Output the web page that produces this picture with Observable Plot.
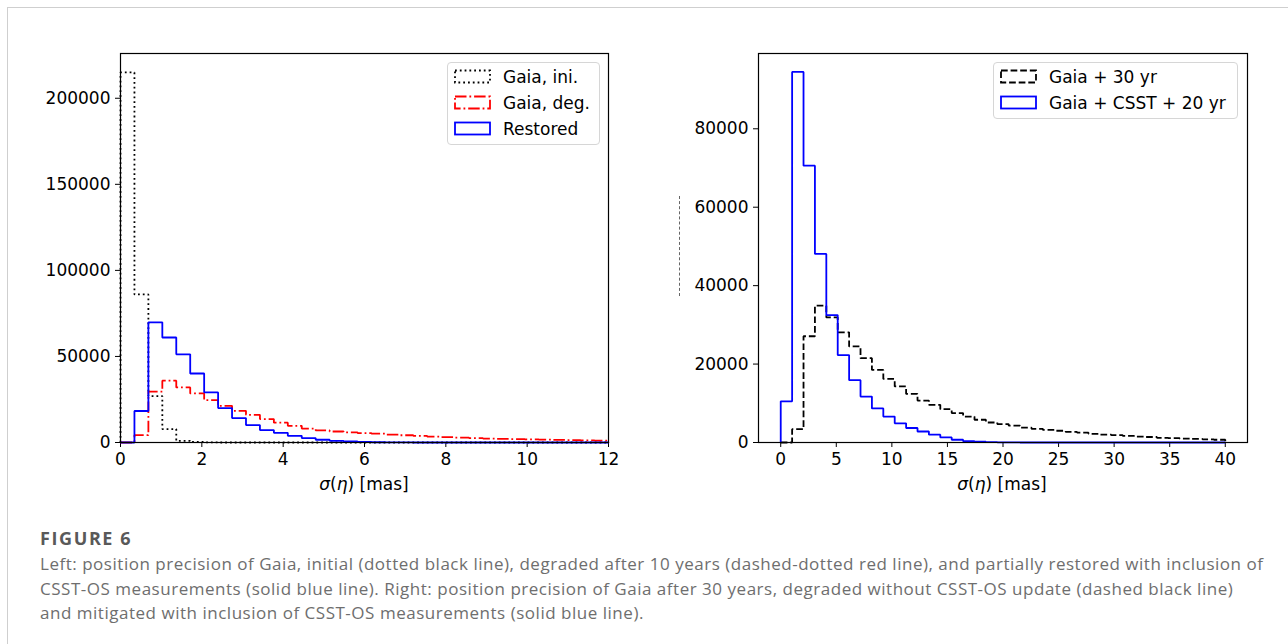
<!DOCTYPE html>
<html>
<head>
<meta charset="utf-8">
<script src="https://cdn.jsdelivr.net/npm/d3@7"></script>
<script src="https://cdn.jsdelivr.net/npm/@observablehq/plot@0.6"></script>
<style>
  html, body { margin: 0; padding: 0; background: #fff; }
  body { width: 1288px; height: 644px; position: relative; overflow: hidden; font-family: "DejaVu Sans", sans-serif; }
  .card { position: absolute; left: 7px; top: 7px; width: 1300px; height: 700px; border-top: 1.5px solid #cfcfcf; border-left: 1.5px solid #cfcfcf; }
  .panel { position: absolute; top: 40px; }
  .legend { position: absolute; background: rgba(255,255,255,0.8); border: 1px solid #d6d6d6; border-radius: 4px; box-sizing: border-box; font-family: "DejaVu Sans", sans-serif; font-size: 17px; color: #000; }
  .legend .row { position: absolute; left: 6px; height: 26px; display: flex; align-items: center; white-space: nowrap; }
  .legend svg { margin-right: 11px; }
  .xlabel { position: absolute; font-family: "DejaVu Sans", sans-serif; font-size: 17px; color: #000; white-space: nowrap; transform: translateX(-50%); }
  .xlabel i { font-family: "DejaVu Sans", sans-serif; font-style: italic; }
  .caption { position: absolute; left: 40px; top: 524px; font-family: "Open Sans", sans-serif; color: #6e6e6e; white-space: nowrap; }
  .caption .fig { font-weight: 700; font-size: 18px; color: #595959; letter-spacing: 1.6px; margin-bottom: 0px; line-height: 28px; }
  .caption .txt { font-size: 17px; letter-spacing: 0.52px; line-height: 24.5px; }
  .artifact { position: absolute; left: 679px; top: 196px; height: 100px; border-left: 1px dashed #666; }
</style>
</head>
<body>
<div class="card"></div>
<div class="artifact"></div>
<div id="left" class="panel" style="left:20px"></div>
<div id="right" class="panel" style="left:660px"></div>
<div class="xlabel" style="left:364px; top:474px"><i>σ</i>(<i>η</i>) [mas]</div>
<div class="xlabel" style="left:1002px; top:474px"><i>σ</i>(<i>η</i>) [mas]</div>
<div id="legL" class="legend" style="left:447px; top:62px; width:153px; height:83px"></div>
<div id="legR" class="legend" style="left:993px; top:62px; width:245px; height:57px"></div>
<div class="caption">
  <div class="fig">FIGURE 6</div>
  <div class="txt">Left: position precision of Gaia, initial (dotted black line), degraded after 10 years (dashed-dotted red line), and partially restored with inclusion of<br>CSST-OS measurements (solid blue line). Right: position precision of Gaia after 30 years, degraded without CSST-OS update (dashed black line)<br>and mitigated with inclusion of CSST-OS measurements (solid blue line).</div>
</div>
<script>
// ---------- data (histogram counts per bin) ----------
const leftRange = [0, 12];            // 35 equal bins
const leftXTicks = [0, 2, 4, 6, 8, 10, 12];
const leftYTicks = [0, 50000, 100000, 150000, 200000];
const leftNames = ["Gaia, ini.", "Gaia, deg.", "Restored"];

const gaiaIni = [215000, 86000, 27000, 7800, 1000, 300, 100, 0, 0, 0,
  0, 0, 0, 0, 0, 0, 0, 0, 0, 0,
  0, 0, 0, 0, 0, 0, 0, 0, 0, 0,
  0, 0, 0, 0, 0];
const gaiaDeg = [0, 4300, 29500, 35900, 32000, 28500, 24600, 21300, 18400, 16100,
  13600, 11500, 9700, 8100, 7000, 6400, 5900, 5500, 5100, 4600,
  4200, 3800, 3400, 3100, 2800, 2500, 2300, 2100, 2000, 1800,
  1700, 1500, 1400, 1250, 1100];
const restored = [0, 18300, 69800, 61000, 51200, 40100, 29100, 20000, 14200, 10100,
  7200, 5600, 3900, 2600, 1600, 1000, 600, 300, 150, 80,
  40, 0, 0, 0, 0, 0, 0, 0, 0, 0,
  0, 0, 0, 0, 0];

const rightRange = [0, 40];           // 39 equal bins
const rightXTicks = [0, 5, 10, 15, 20, 25, 30, 35, 40];
const rightYTicks = [0, 20000, 40000, 60000, 80000];
const rightNames = ["Gaia + 30 yr", "Gaia + CSST + 20 yr"];

const gaia30 = [0, 3400, 27100, 34900, 31900, 28100, 24500, 21500, 18500, 16200,
  14300, 12400, 10700, 9600, 8500, 7500, 6600, 5800, 5100, 4700,
  4300, 3800, 3500, 3200, 3000, 2700, 2500, 2200, 2000, 1900,
  1700, 1500, 1400, 1200, 1100, 1000, 900, 800, 700];
const csst20 = [10500, 94500, 70600, 48100, 32500, 22300, 15900, 11700, 8700, 6600,
  4900, 3700, 2800, 2000, 1300, 700, 350, 200, 100, 50,
  20, 0, 0, 0, 0, 0, 0, 0, 0, 0,
  0, 0, 0, 0, 0, 0, 0, 0, 0];

// ---------- styles ----------
const LW = 1.8;
const DOT = "1.8,3";
const DASH = "6.7,2.9";
const DASHDOT = "11.5,2.9,1.8,2.9";

// outline of a step histogram (matplotlib histtype="step")
function stepPoints(counts, range) {
  const n = counts.length, w = (range[1] - range[0]) / n;
  const pts = [{x: range[0], y: 0}];
  counts.forEach((c, i) => pts.push({x: range[0] + i * w, y: c}));
  pts.push({x: range[1], y: counts[n - 1]});
  pts.push({x: range[1], y: 0});
  return pts;
}

const common = {
  height: 460, marginTop: 13, marginBottom: 58,
  style: {fontFamily: "DejaVu Sans, sans-serif", fontSize: "17px", color: "#000", background: "transparent", overflow: "visible"}
};
const fmt = d => String(d);

function stepLine(counts, range, stroke, dash) {
  return Plot.line(stepPoints(counts, range), {x: "x", y: "y", curve: "step-after", stroke, strokeWidth: LW, strokeDasharray: dash, strokeLinejoin: "miter", strokeLinecap: "butt"});
}

const left = Plot.plot({
  ...common,
  width: 600, marginLeft: 100, marginRight: 12,
  x: {domain: [0, 12], ticks: leftXTicks, tickFormat: fmt, label: null, tickSize: 5, tickPadding: 5},
  y: {domain: [0, 226000], ticks: leftYTicks, tickFormat: fmt, label: null, tickSize: 5, tickPadding: 5},
  marks: [
    stepLine(gaiaIni, leftRange, "#000", DOT),
    stepLine(gaiaDeg, leftRange, "#ff0000", DASHDOT),
    stepLine(restored, leftRange, "#0000ff", null),
    Plot.frame({stroke: "#000", strokeWidth: 1.2})
  ]
});
document.getElementById("left").append(left);

const right = Plot.plot({
  ...common,
  width: 610, marginLeft: 98, marginRight: 23,
  x: {domain: [-2, 42], ticks: rightXTicks, tickFormat: fmt, label: null, tickSize: 5, tickPadding: 5},
  y: {domain: [0, 99200], ticks: rightYTicks, tickFormat: fmt, label: null, tickSize: 5, tickPadding: 5},
  marks: [
    stepLine(gaia30, rightRange, "#000", DASH),
    stepLine(csst20, rightRange, "#0000ff", null),
    Plot.frame({stroke: "#000", strokeWidth: 1.2})
  ]
});
document.getElementById("right").append(right);

// ---------- legends ----------
function legend(el, names, styles) {
  names.forEach((name, i) => {
    const row = document.createElement("div");
    row.className = "row";
    row.style.top = (1 + i * 26) + "px";
    const [stroke, dash] = styles[i];
    row.innerHTML = `<svg width="38" height="16"><rect x="1" y="1.5" width="35" height="12" fill="none" stroke="${stroke}" stroke-width="${LW}" ${dash ? `stroke-dasharray="${dash}"` : ""}/></svg><span>${name}</span>`;
    el.append(row);
  });
}
legend(document.getElementById("legL"), leftNames, [["#000", DOT], ["#ff0000", DASHDOT], ["#0000ff", null]]);
legend(document.getElementById("legR"), rightNames, [["#000", DASH], ["#0000ff", null]]);
</script>
</body>
</html>
